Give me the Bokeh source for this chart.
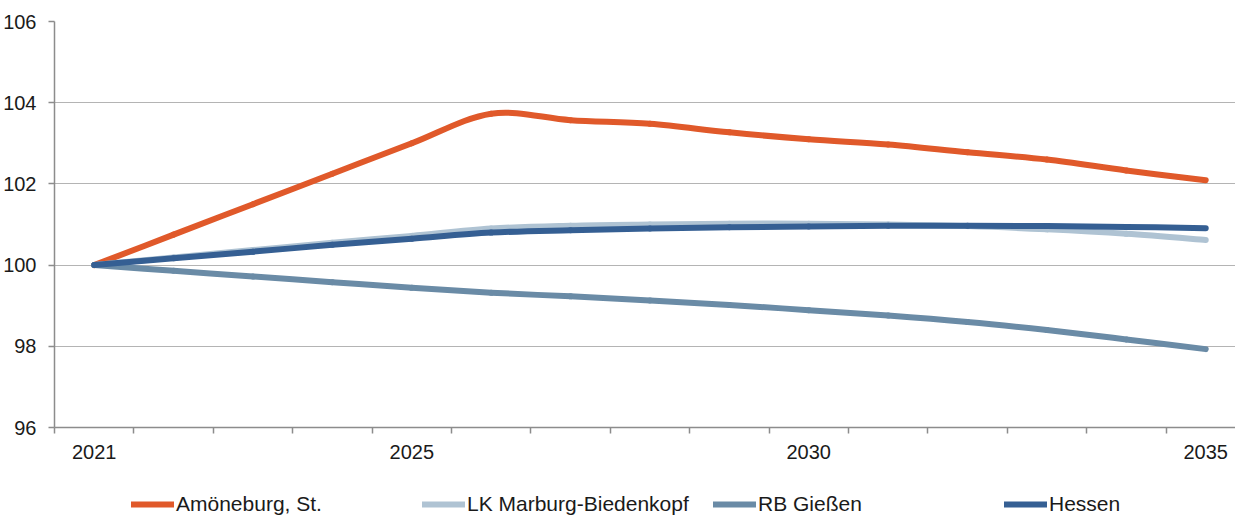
from bokeh.plotting import figure
from bokeh.layouts import column
from bokeh.models import (Range1d, FixedTicker, Legend, LegendItem, ColumnDataSource)
from bokeh.embed import file_html
from bokeh.resources import INLINE

# ---- data ----
years = list(range(2021, 2036))
tick_years = [2021, 2025, 2030, 2035]
y_ticks = [96, 98, 100, 102, 104, 106]

series_names = ["Amöneburg, St.", "LK Marburg-Biedenkopf", "RB Gießen", "Hessen"]
amoeneburg = [100.0, 100.75, 101.5, 102.25, 103.0, 103.73, 103.57, 103.48, 103.27, 103.1,
              102.97, 102.78, 102.6, 102.33, 102.09]
lk_marburg = [100.0, 100.19, 100.37, 100.55, 100.72, 100.9, 100.97, 101.0, 101.02, 101.02,
              101.0, 100.96, 100.88, 100.77, 100.62]
rb_giessen = [100.0, 99.86, 99.72, 99.58, 99.44, 99.32, 99.23, 99.13, 99.02, 98.89,
              98.76, 98.6, 98.4, 98.17, 97.93]
hessen = [100.0, 100.17, 100.33, 100.5, 100.65, 100.8, 100.86, 100.9, 100.93, 100.95,
          100.97, 100.97, 100.96, 100.94, 100.91]
colors = ["#E0592A", "#AFC3D3", "#6A8BA6", "#355F93"]

FONT = "Liberation Sans"
LW = 6

p = figure(width=1235, height=466, output_backend="svg", toolbar_location=None,
           x_range=Range1d(2020.5, 2035.375), y_range=Range1d(96, 106),
           min_border_left=45, min_border_right=0, min_border_top=21, min_border_bottom=39)
p.outline_line_color = None
p.background_fill_color = "white"
p.border_fill_color = "white"

# axes
xa = p.xaxis[0]
xa.ticker = FixedTicker(ticks=tick_years,
                        minor_ticks=[y + 0.5 for y in range(2020, 2036)])
xa.major_tick_out = 0
xa.major_tick_in = 0
xa.minor_tick_out = 6
xa.minor_tick_in = 0
xa.minor_tick_line_color = "#8C8C8C"
xa.minor_tick_line_width = 1.5
xa.axis_line_color = "#8C8C8C"
xa.axis_line_width = 1.5
xa.major_label_text_font = FONT
xa.major_label_text_font_size = "20px"
xa.major_label_text_color = "#1a1a1a"
xa.major_label_standoff = 11

ya = p.yaxis[0]
ya.ticker = FixedTicker(ticks=y_ticks, minor_ticks=[])
ya.major_tick_out = 6
ya.major_tick_in = 0
ya.major_tick_line_color = "#8C8C8C"
ya.major_tick_line_width = 1.5
ya.minor_tick_out = 0
ya.minor_tick_in = 0
ya.axis_line_color = "#8C8C8C"
ya.axis_line_width = 1.5
ya.major_label_text_font = FONT
ya.major_label_text_font_size = "20px"
ya.major_label_text_color = "#1a1a1a"
ya.major_label_standoff = 12

p.xgrid.grid_line_color = None
p.ygrid.ticker = FixedTicker(ticks=y_ticks)
p.ygrid.grid_line_color = "#B4B4B4"
p.ygrid.grid_line_width = 1.2


def smooth_segments(xs, ys):
    """Bezier segments through the data points (Excel-style smoothing)."""
    n = len(xs)
    x0, y0, x1, y1, cx0, cy0, cx1, cy1 = ([] for _ in range(8))
    for i in range(n - 1):
        im1 = max(i - 1, 0)
        ip2 = min(i + 2, n - 1)
        x0.append(xs[i]); y0.append(ys[i])
        x1.append(xs[i + 1]); y1.append(ys[i + 1])
        cx0.append(xs[i] + (xs[i + 1] - xs[im1]) / 6.0)
        cy0.append(ys[i] + (ys[i + 1] - ys[im1]) / 6.0)
        cx1.append(xs[i + 1] - (xs[ip2] - xs[i]) / 6.0)
        cy1.append(ys[i + 1] - (ys[ip2] - ys[i]) / 6.0)
    return ColumnDataSource(dict(x0=x0, y0=y0, x1=x1, y1=y1,
                                 cx0=cx0, cy0=cy0, cx1=cx1, cy1=cy1))


for name, vals, col in zip(series_names, [amoeneburg, lk_marburg, rb_giessen, hessen], colors):
    src = smooth_segments(years, vals)
    p.bezier(x0="x0", y0="y0", x1="x1", y1="y1", cx0="cx0", cy0="cy0",
             cx1="cx1", cy1="cy1", source=src, line_color=col, line_width=LW,
             line_cap="round")

# ---- legend strip (separate small figure below the chart) ----
lg = figure(width=1235, height=50, output_backend="svg", toolbar_location=None,
            x_range=Range1d(0, 1), y_range=Range1d(0, 1),
            min_border_left=0, min_border_right=0, min_border_top=0, min_border_bottom=0,
            x_axis_type=None, y_axis_type=None)
lg.outline_line_color = None
lg.grid.visible = False
items = []
for name, col in zip(series_names, colors):
    # off-range dummy renderer: only its style is used for the legend swatch
    r = lg.line(x=[-10, -9], y=[-10, -9], line_color=col, line_width=LW, line_cap="round")
    items.append(LegendItem(label=name, renderers=[r]))

legend = Legend(items=items, orientation="horizontal", location=(77, 0),
                label_text_font=FONT, label_text_font_size="21px",
                label_text_color="#1a1a1a", label_width=222, label_height=20,
                glyph_width=43, glyph_height=20, label_standoff=2, spacing=24,
                padding=0, margin=0, border_line_color=None,
                background_fill_alpha=0)
lg.add_layout(legend, "center")

layout = column(p, lg, spacing=0)
open("out.html", "w").write(file_html(layout, INLINE))
